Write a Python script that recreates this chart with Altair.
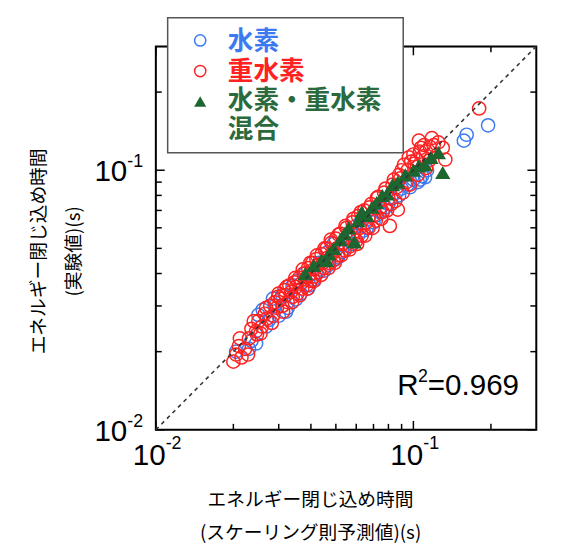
import altair as alt
import pandas as pd

# ---- data ----
hydrogen = [(0.0205,0.0200),(0.0230,0.0205),(0.0235,0.0220),(0.0250,0.0277),(0.0260,0.0290),
            (0.0275,0.0265),(0.0290,0.0300),(0.0300,0.0275),(0.0310,0.0330),(0.0325,0.0295),
            (0.0340,0.0360),(0.0350,0.0318),(0.0365,0.0335),(0.0380,0.0400),(0.0395,0.0360),
            (0.0410,0.0378),(0.0430,0.0440),(0.0450,0.0410),(0.0470,0.0432),(0.0490,0.0520),
            (0.0510,0.0462),(0.0530,0.0485),(0.0560,0.0560),(0.0580,0.0520),(0.0610,0.0560),
            (0.0640,0.0585),(0.0670,0.0650),(0.0700,0.0630),(0.0740,0.0690),(0.0780,0.0720),
            (0.0820,0.0780),(0.0860,0.0820),(0.0900,0.0850),(0.0950,0.0880),(0.1000,0.0920),
            (0.1040,0.0900),(0.1080,0.0950),(0.1110,0.0940),(0.1130,0.1000),(0.1570,0.1300),
            (0.1610,0.1370),(0.1950,0.1490),
            (0.0245,0.0215),(0.0268,0.0250),(0.0285,0.0320),(0.0320,0.0285),(0.0355,0.0375),
            (0.0390,0.0350),(0.0420,0.0400),(0.0460,0.0480),(0.0500,0.0455),(0.0545,0.0515),
            (0.0600,0.0610),(0.0660,0.0600),(0.0720,0.0670),(0.0800,0.0740),(0.0880,0.0800),
            (0.0970,0.0860),(0.1060,0.0920)]

deuterium = [(0.0200,0.0183),(0.0205,0.0195),(0.0210,0.0210),(0.0215,0.0190),(0.0222,0.0205),
             (0.0230,0.0225),(0.0235,0.0245),(0.0245,0.0240),(0.0247,0.0233),(0.0250,0.0262),
             (0.0258,0.0250),(0.0265,0.0280),(0.0270,0.0268),(0.0278,0.0300),(0.0285,0.0275),
             (0.0290,0.0310),(0.0295,0.0295),(0.0300,0.0335),(0.0305,0.0320),(0.0310,0.0300),
             (0.0315,0.0345),(0.0320,0.0330),(0.0325,0.0310),(0.0330,0.0360),(0.0335,0.0340),
             (0.0340,0.0325),(0.0345,0.0370),(0.0350,0.0355),(0.0355,0.0335),(0.0360,0.0385),
             (0.0365,0.0365),(0.0370,0.0350),(0.0375,0.0400),(0.0380,0.0380),(0.0385,0.0360),
             (0.0390,0.0420),(0.0395,0.0395),(0.0400,0.0375),(0.0405,0.0440),(0.0410,0.0415),
             (0.0415,0.0390),(0.0420,0.0455),(0.0425,0.0430),(0.0430,0.0405),(0.0440,0.0475),
             (0.0445,0.0440),(0.0450,0.0420),(0.0460,0.0500),(0.0465,0.0460),(0.0470,0.0440),
             (0.0480,0.0525),(0.0485,0.0480),(0.0490,0.0450),(0.0500,0.0545),(0.0505,0.0500),
             (0.0510,0.0470),(0.0520,0.0570),(0.0530,0.0520),(0.0540,0.0490),(0.0550,0.0600),
             (0.0560,0.0545),(0.0570,0.0510),(0.0580,0.0630),(0.0590,0.0570),(0.0600,0.0535),
             (0.0610,0.0665),(0.0620,0.0600),(0.0630,0.0560),(0.0645,0.0700),(0.0655,0.0630),
             (0.0670,0.0600),(0.0685,0.0740),(0.0700,0.0670),(0.0715,0.0640),(0.0730,0.0790),
             (0.0745,0.0720),(0.0760,0.0690),(0.0780,0.0850),(0.0800,0.0780),(0.0810,0.0610),
             (0.0820,0.0740),(0.0840,0.0920),(0.0860,0.0860),(0.0870,0.0705),(0.0880,0.0960),
             (0.0900,0.1000),(0.0920,0.1050),(0.0940,0.0900),(0.0960,0.1120),(0.0980,0.1080),
             (0.1000,0.1150),(0.1030,0.1100),(0.1050,0.1300),(0.1060,0.1180),(0.1090,0.1130),
             (0.1100,0.1250),(0.1120,0.1020),(0.1150,0.1090),(0.1180,0.1330),(0.1250,0.1280),
             (0.1300,0.1220),(0.1330,0.1100),(0.1800,0.1730),
             (0.0212,0.0225),(0.0228,0.0195),(0.0240,0.0262),(0.0255,0.0235),(0.0268,0.0295),
             (0.0282,0.0258),(0.0298,0.0325),(0.0312,0.0285),(0.0322,0.0355),(0.0338,0.0310),
             (0.0348,0.0385),(0.0362,0.0330),(0.0372,0.0415),(0.0388,0.0350),(0.0398,0.0440),
             (0.0412,0.0375),(0.0422,0.0470),(0.0438,0.0395),(0.0452,0.0500),(0.0468,0.0420),
             (0.0478,0.0540),(0.0495,0.0440),(0.0512,0.0565),(0.0525,0.0470),(0.0545,0.0610),
             (0.0565,0.0495),(0.0585,0.0650),(0.0605,0.0520),(0.0625,0.0690),(0.0650,0.0560),
             (0.0675,0.0720),(0.0695,0.0600),(0.0720,0.0780),(0.0750,0.0650),(0.0770,0.0820),
             (0.0790,0.0700),(0.0830,0.0880),(0.0850,0.0760),(0.0890,0.0930),(0.0910,0.0820),
             (0.0950,0.1000),(0.0970,0.0880),(0.1010,0.1060),(0.1040,0.0960),(0.1070,0.1220),
             (0.1120,0.1180),(0.1200,0.1250),(0.1160,0.1230)]

mixed = [(0.038,0.040),(0.041,0.043),(0.044,0.045),(0.046,0.0448),(0.047,0.0476),(0.049,0.050),
         (0.052,0.054),(0.054,0.057),(0.056,0.060),(0.059,0.053),(0.061,0.064),(0.063,0.069),
         (0.066,0.067),(0.069,0.072),(0.072,0.075),(0.0757,0.080),(0.079,0.081),(0.083,0.088),
         (0.087,0.090),(0.093,0.096),(0.100,0.100),(0.105,0.104),(0.111,0.105),(0.117,0.112),
         (0.125,0.117),(0.130,0.098)]

diag = [0.01, 0.3]
major_ticks = [0.01, 0.1]
major_exp = ["-2", "-1"]
minor_ticks = [0.02, 0.03, 0.04, 0.05, 0.06, 0.07, 0.08, 0.09, 0.2]
legend_labels = ["水素", "重水素", "水素・重水素", "混合"]
r2_value = "=0.969"
x_title = ["エネルギー閉じ込め時間", "(スケーリング則予測値)(s)"]
y_title = ["エネルギー閉じ込め時間", "(実験値)(s)"]

# ---- styling ----
W, H = 386, 389
NUM = "Liberation Sans, Arial, sans-serif"
JP = "Noto Sans CJK JP, sans-serif"
BLUE = "#3c7af0"
RED = "#ff2222"
GREEN = "#1d6630"
GREEN_T = "#2a6a3c"

xs = alt.Scale(type="log", domain=[0.01, 0.3], nice=False, zero=False)
ys = alt.Scale(type="log", domain=[0.01, 0.3], nice=False, zero=False)

def pts(p):
    return pd.DataFrame({"x": [a for a, b in p], "y": [b for a, b in p]})

X = alt.X("x:Q", scale=xs, axis=None)
Y = alt.Y("y:Q", scale=ys, axis=None)

dummy = pd.DataFrame({"d": [0]})
maj = pd.DataFrame({"v": major_ticks, "e": major_exp, "t": ["10"] * len(major_ticks)})
mnr = pd.DataFrame({"v": minor_ticks})

layers = []

# frame
layers.append(alt.Chart(dummy).mark_rect(fillOpacity=0, stroke="black", strokeWidth=2).encode(
    x=alt.value(0), x2=alt.value(W), y=alt.value(0), y2=alt.value(H)))

# inward ticks, all four sides
for L, df in [(9, pd.DataFrame({"v": major_ticks})), (6, mnr)]:
    base = alt.Chart(df).mark_rule(color="black", strokeWidth=1.5)
    layers.append(base.encode(x=alt.X("v:Q", scale=xs, axis=None), y=alt.value(H), y2=alt.value(H - L)))
    layers.append(base.encode(x=alt.X("v:Q", scale=xs, axis=None), y=alt.value(0), y2=alt.value(L)))
    layers.append(base.encode(y=alt.Y("v:Q", scale=ys, axis=None), x=alt.value(0), x2=alt.value(L)))
    layers.append(base.encode(y=alt.Y("v:Q", scale=ys, axis=None), x=alt.value(W), x2=alt.value(W - L)))

# tick labels (10 with superscript exponent)
layers.append(alt.Chart(maj).mark_text(align="right", baseline="alphabetic", fontSize=30, font=NUM,
                                       dx=10, color="black").encode(
    x=alt.X("v:Q", scale=xs, axis=None), y=alt.value(H + 36), text="t:N"))
layers.append(alt.Chart(maj).mark_text(align="left", baseline="alphabetic", fontSize=18, font=NUM,
                                       dx=10, color="black").encode(
    x=alt.X("v:Q", scale=xs, axis=None), y=alt.value(H + 20), text="e:N"))
layers.append(alt.Chart(maj).mark_text(align="right", baseline="alphabetic", fontSize=30, font=NUM,
                                       dy=11, color="black").encode(
    y=alt.Y("v:Q", scale=ys, axis=None), x=alt.value(-29), text="t:N"))
layers.append(alt.Chart(maj).mark_text(align="left", baseline="alphabetic", fontSize=18, font=NUM,
                                       dy=-3, color="black").encode(
    y=alt.Y("v:Q", scale=ys, axis=None), x=alt.value(-29), text="e:N"))

# data
layers.append(alt.Chart(pts(hydrogen)).mark_point(shape="circle", filled=False, size=180,
                                                  strokeWidth=1.5, color=BLUE, opacity=1).encode(x=X, y=Y))
layers.append(alt.Chart(pts(deuterium)).mark_point(shape="circle", filled=False, size=180,
                                                   strokeWidth=1.5, color=RED, opacity=1).encode(x=X, y=Y))
layers.append(alt.Chart(pts(mixed)).mark_point(shape="triangle-up", filled=True, size=240,
                                               color=GREEN, opacity=1).encode(x=X, y=Y))

# diagonal dashed line
layers.append(alt.Chart(pd.DataFrame({"x": diag, "y": diag})).mark_line(
    color="#333333", strokeWidth=1.6, strokeDash=[4, 4]).encode(x=X, y=Y))

# R^2 annotation
layers.append(alt.Chart(dummy).mark_text(text="R", align="left", baseline="alphabetic", fontSize=30,
                                         font=NUM, color="black").encode(x=alt.value(245), y=alt.value(354)))
layers.append(alt.Chart(dummy).mark_text(text="2", align="left", baseline="alphabetic", fontSize=18,
                                         font=NUM, color="black").encode(x=alt.value(266), y=alt.value(341)))
layers.append(alt.Chart(dummy).mark_text(text=r2_value, align="left", baseline="alphabetic", fontSize=30,
                                         font=NUM, color="black").encode(x=alt.value(276), y=alt.value(354)))

# legend (manual)
layers.append(alt.Chart(dummy).mark_rect(fill="white", stroke="#555555", strokeWidth=1.5).encode(
    x=alt.value(12), x2=alt.value(251), y=alt.value(-29), y2=alt.value(108)))
layers.append(alt.Chart(dummy).mark_point(shape="circle", filled=False, size=130, strokeWidth=1.5,
                                          color=BLUE, opacity=1).encode(x=alt.value(45), y=alt.value(-6)))
layers.append(alt.Chart(dummy).mark_point(shape="circle", filled=False, size=130, strokeWidth=1.5,
                                          color=RED, opacity=1).encode(x=alt.value(45), y=alt.value(25)))
layers.append(alt.Chart(dummy).mark_point(shape="triangle-up", filled=True, size=150,
                                          color=GREEN, opacity=1).encode(x=alt.value(45), y=alt.value(56)))
for lab, col, yy in [(legend_labels[0], BLUE, -4), (legend_labels[1], RED, 26),
                     (legend_labels[2], GREEN_T, 56), (legend_labels[3], GREEN_T, 85)]:
    layers.append(alt.Chart(dummy).mark_text(text=lab, align="left", baseline="middle", fontSize=26,
                                             fontWeight="bold", font=JP, color=col).encode(
        x=alt.value(73), y=alt.value(yy)))

# axis titles
for t, yy in zip(x_title, [460, 494]):
    layers.append(alt.Chart(dummy).mark_text(text=t, align="center", baseline="middle", fontSize=19,
                                             font=JP, color="black").encode(x=alt.value(157), y=alt.value(yy)))
for t, xx in zip(y_title, [-118, -83]):
    layers.append(alt.Chart(dummy).mark_text(text=t, align="center", baseline="middle", fontSize=19,
                                             font=JP, color="black", angle=270).encode(x=alt.value(xx), y=alt.value(208)))

chart = alt.layer(*layers).properties(
    width=W, height=H,
    autosize=alt.AutoSizeParams(type="none"),
    padding={"left": 150, "top": 35, "right": 19, "bottom": 117},
).configure_view(stroke=None).configure(background="white")

chart.save("out.html", embed_options={"renderer": "svg", "actions": False})
